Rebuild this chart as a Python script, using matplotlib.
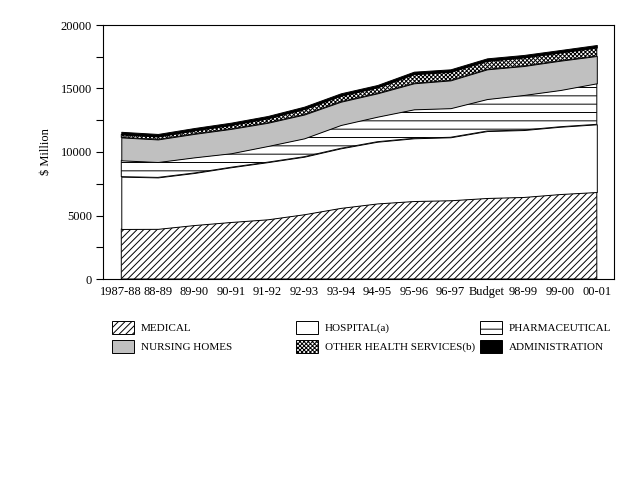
import matplotlib
matplotlib.use("Agg")
import matplotlib.pyplot as plt
from matplotlib.ticker import MultipleLocator

plt.rcParams['font.family'] = ['Liberation Serif', 'DejaVu Serif']
plt.rcParams['hatch.linewidth'] = 0.7

years = ['1987-88', '88-89', '89-90', '90-91', '91-92', '92-93', '93-94',
         '94-95', '95-96', '96-97', 'Budget', '98-99', '99-00', '00-01']

# $ million
medical = [3940, 3950, 4250, 4490, 4700, 5100, 5600, 5950, 6140, 6200, 6380, 6460, 6690, 6850]
hospital = [4120, 4050, 4100, 4310, 4500, 4530, 4690, 4860, 4940, 4960, 5270, 5270, 5300, 5330]
pharmaceutical = [1285, 1210, 1230, 1100, 1270, 1445, 1836, 1970, 2280, 2290, 2520, 2760, 2890, 3230]
nursing = [1805, 1780, 1850, 1920, 1830, 1875, 1834, 1840, 2050, 2190, 2340, 2280, 2310, 2150]
other = [230, 230, 270, 300, 345, 430, 470, 465, 715, 670, 665, 670, 640, 665]
admin = [210, 200, 190, 190, 190, 190, 190, 190, 200, 200, 200, 200, 200, 200]

labels = ['MEDICAL', 'HOSPITAL(a)', 'PHARMACEUTICAL', 'NURSING HOMES',
          'OTHER HEALTH SERVICES(b)', 'ADMINISTRATION']
colors = ['white', 'white', 'white', '#c0c0c0', 'white', 'black']
hatches = ['/////', None, '--', None, 'xxxxxxxx', None]

fig = plt.figure(figsize=(6.4, 4.8), dpi=100)
ax = fig.add_axes([103 / 640, 1 - 279 / 480, 511 / 640, 254 / 480])

x = list(range(len(years)))
polys = ax.stackplot(x, medical, hospital, pharmaceutical, nursing, other, admin,
                     colors=colors, edgecolor='black', linewidth=0.7, labels=labels)
for p, h in zip(polys, hatches):
    if h:
        p.set_hatch(h)

ax.set_xlim(-0.5, 13.47)
ax.set_ylim(0, 20000)
ax.yaxis.set_major_locator(MultipleLocator(5000))
ax.yaxis.set_minor_locator(MultipleLocator(2500))
ax.tick_params(axis='y', which='both', direction='out', length=5, width=0.8, labelsize=9, pad=3)
ax.set_xticks(x)
ax.set_xticklabels(years)
ax.tick_params(axis='x', length=0, labelsize=9, pad=5)
ax.set_ylabel('\\$ Million', fontsize=9, labelpad=6)
for s in ax.spines.values():
    s.set_linewidth(0.8)

# legend laid out in three separate columns like the original
order = [(0, 3), (1, 4), (2, 5)]
xs = [112, 296, 480]
for (a, b), xp in zip(order, xs):
    fig.legend([polys[a], polys[b]], [labels[a], labels[b]], loc='upper left',
               bbox_to_anchor=(xp / 640, 1 - 321 / 480), frameon=False,
               fontsize=8, handlelength=2.0, handleheight=1.4, handletextpad=0.6,
               labelspacing=0.55, borderpad=0, borderaxespad=0)

fig.savefig('out.png', dpi=100)
